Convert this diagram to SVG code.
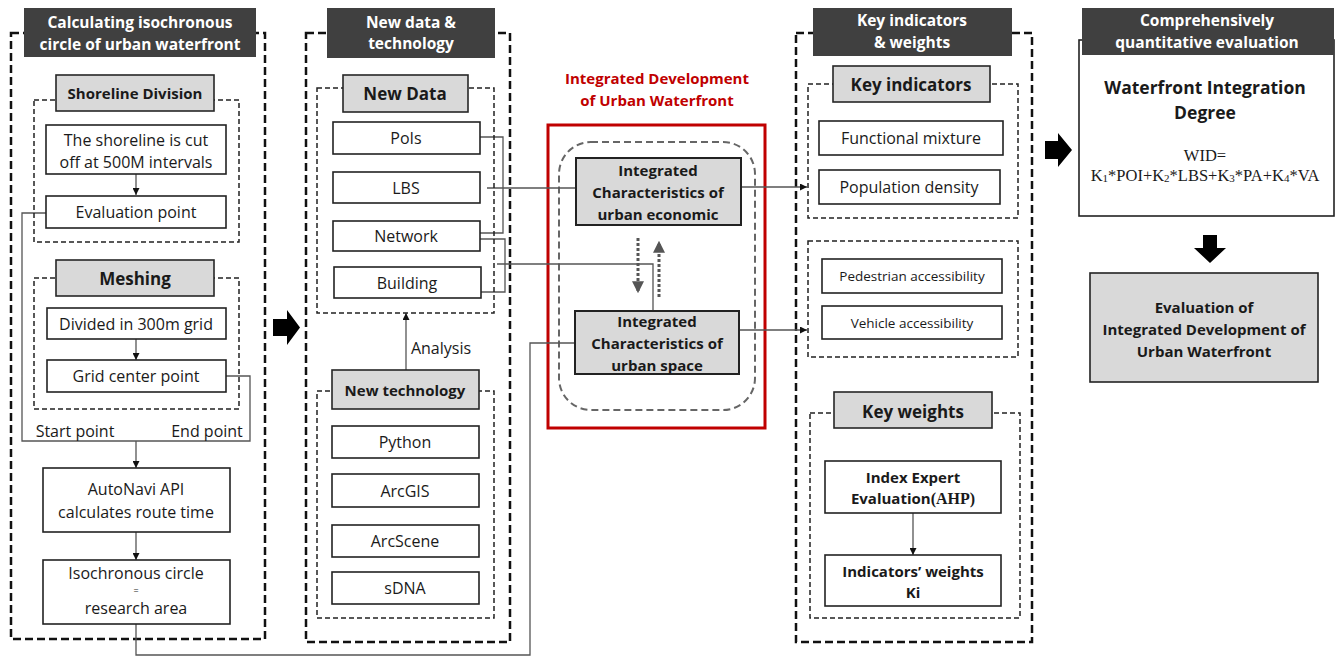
<svg xmlns="http://www.w3.org/2000/svg" width="1335" height="656" viewBox="0 0 1335 656">
<style>
text{font-family:"Open Sans","Noto Sans","Liberation Sans",sans-serif;fill:#1a1a1a;text-anchor:middle;dominant-baseline:central}
.hd{fill:#404040}
.hdt{fill:#fff;font-weight:bold;font-size:15.5px}
.outer{fill:none;stroke:#111;stroke-width:2.5;stroke-dasharray:8 4}
.inner{fill:none;stroke:#222;stroke-width:1.5;stroke-dasharray:5 3}
.lab{fill:#d9d9d9;stroke:#262626;stroke-width:1.6}
.labt{font-weight:bold;font-size:16px}
.box{fill:#fff;stroke:#222;stroke-width:1.6}
.t{font-size:16px}
.gbox{fill:#d9d9d9;stroke:#222;stroke-width:2}
.bt{font-weight:bold;font-size:15px}
.con{fill:none;stroke:#555;stroke-width:1.3}
.arr{fill:none;stroke:#555;stroke-width:1.3;marker-end:url(#ah)}
.dot{fill:none;stroke:#555;stroke-width:3;stroke-dasharray:3 2;marker-end:url(#dh)}
.blk{fill:#000}
.red{font-weight:bold;font-size:15px;fill:#c00000}
.serif{font-family:"Liberation Serif","Times New Roman",serif;font-size:16.5px}
</style>
<defs>
<marker id="ah" viewBox="0 0 10 10" refX="10" refY="5" markerWidth="7" markerHeight="7" markerUnits="userSpaceOnUse" orient="auto"><path d="M0,0 L10,5 L0,10 z" fill="#111"/></marker>
<marker id="dh" viewBox="0 0 10 10" refX="9" refY="5" markerWidth="4" markerHeight="4" orient="auto"><path d="M0,0 L10,5 L0,10 z" fill="#555"/></marker>
</defs>

<!-- containers -->
<g id="col-left">
<rect class="outer" x="11" y="33" width="254" height="606"/>
<rect class="hd" x="24" y="8" width="232" height="49"/>
<text class="hdt" x="140" y="22">Calculating isochronous</text>
<text class="hdt" x="140" y="44">circle of urban waterfront</text>
</g>
<g id="col-middle">
<rect class="outer" x="306" y="33" width="204" height="609"/>
<rect class="hd" x="327" y="8" width="168" height="50"/>
<text class="hdt" x="411" y="22">New data &amp;</text>
<text class="hdt" x="411" y="43">technology</text>
</g>
<g id="col-right">
<rect class="outer" x="796" y="33" width="236" height="609"/>
<rect class="hd" x="813" y="8" width="199" height="48"/>
<text class="hdt" x="912" y="20">Key indicators</text>
<text class="hdt" x="912" y="42">&amp; weights</text>
</g>
<g id="center-frame">
<text class="red" x="657" y="78">Integrated Development</text>
<text class="red" x="657" y="100">of Urban Waterfront</text>
<rect x="548" y="125" width="217" height="303" fill="none" stroke="#c00000" stroke-width="3"/>
<rect x="559" y="142" width="196" height="268" rx="32" fill="none" stroke="#666" stroke-width="2" stroke-dasharray="7 4"/>
</g>

<!-- connectors -->
<g id="connectors">
<path class="arr" d="M136,174 V195"/>
<path class="arr" d="M136,339 V360"/>
<path class="con" d="M46,213 H22 V441 H250 V376 H226"/>
<path class="arr" d="M136,441 V468"/>
<path class="arr" d="M136,532 V560"/>
<path class="con" d="M136,624 V655 H530 V343 H574"/>
<path class="con" d="M480,137 H503 V233 H480"/>
<path class="con" d="M480,239 H505 V292 H481"/>
<path class="con" d="M487,188 H575"/>
<path class="con" d="M497,264 H653 V311"/>
<path class="arr" d="M741,187 H807"/>
<path class="arr" d="M739,330 H807"/>
<path class="arr" d="M406,370 V313"/>
<path class="arr" d="M913,513 V555"/>
<path class="dot" d="M638,238 V292"/>
<path class="dot" d="M659,297 V242"/>
</g>

<!-- left column nodes -->
<g id="shoreline-division">
<rect class="inner" x="34" y="100" width="205" height="142"/>
<rect class="lab" x="56" y="75" width="158" height="36"/>
<text class="labt" x="135" y="93" style="font-size:15px">Shoreline Division</text>
</g>
<g id="shoreline-cut">
<rect class="box" x="46" y="125" width="180" height="49"/>
<text class="t" x="136" y="140">The shoreline is cut</text>
<text class="t" x="136" y="162">off at 500M intervals</text>
</g>
<g id="evaluation-point">
<rect class="box" x="46" y="196" width="180" height="32"/>
<text class="t" x="136" y="212">Evaluation point</text>
</g>
<g id="meshing">
<rect class="inner" x="34" y="278" width="205" height="131"/>
<rect class="lab" x="56" y="260" width="158" height="36"/>
<text class="labt" x="135" y="278" style="font-size:17px">Meshing</text>
</g>
<g id="divided-grid">
<rect class="box" x="47" y="308" width="179" height="31"/>
<text class="t" x="136" y="324">Divided in 300m grid</text>
</g>
<g id="grid-center">
<rect class="box" x="47" y="360" width="179" height="32"/>
<text class="t" x="136" y="376">Grid center point</text>
</g>
<g id="point-labels">
<text class="t" x="75" y="431">Start point</text>
<text class="t" x="207" y="431">End point</text>
</g>
<g id="autonavi">
<rect class="box" x="43" y="468" width="187" height="64"/>
<text class="t" x="136" y="489">AutoNavi API</text>
<text class="t" x="136" y="512">calculates route time</text>
</g>
<g id="isochronous">
<rect class="box" x="43" y="560" width="187" height="64"/>
<text class="t" x="136" y="573">Isochronous circle</text>
<text class="t" x="136" y="590" style="font-size:9px">=</text>
<text class="t" x="136" y="608">research area</text>
</g>

<!-- middle column nodes -->
<g id="new-data">
<rect class="inner" x="317" y="88" width="177" height="225"/>
<rect class="lab" x="343" y="75" width="125" height="37"/>
<text class="labt" x="405" y="93" style="font-size:17px">New Data</text>
</g>
<g id="pois">
<rect class="box" x="333" y="122" width="147" height="32"/>
<text class="t" x="406" y="138">PoIs</text>
</g>
<g id="lbs">
<rect class="box" x="333" y="172" width="147" height="31"/>
<text class="t" x="406" y="188">LBS</text>
</g>
<g id="network">
<rect class="box" x="333" y="221" width="147" height="30"/>
<text class="t" x="406" y="236">Network</text>
</g>
<g id="building">
<rect class="box" x="334" y="267" width="147" height="31"/>
<text class="t" x="407" y="283">Building</text>
</g>
<g id="analysis-label">
<text class="t" x="441" y="348">Analysis</text>
</g>
<g id="new-technology">
<rect class="inner" x="317" y="391" width="177" height="227"/>
<rect class="lab" x="332" y="370" width="147" height="39"/>
<text class="labt" x="405" y="390" style="font-size:15px">New technology</text>
</g>
<g id="python">
<rect class="box" x="332" y="426" width="147" height="32"/>
<text class="t" x="405" y="442">Python</text>
</g>
<g id="arcgis">
<rect class="box" x="332" y="474" width="147" height="33"/>
<text class="t" x="405" y="491">ArcGIS</text>
</g>
<g id="arcscene">
<rect class="box" x="332" y="525" width="147" height="32"/>
<text class="t" x="405" y="541">ArcScene</text>
</g>
<g id="sdna">
<rect class="box" x="332" y="572" width="147" height="32"/>
<text class="t" x="405" y="588">sDNA</text>
</g>

<!-- center nodes -->
<g id="urban-economic">
<rect class="gbox" x="576" y="158" width="165" height="67"/>
<text class="bt" x="658" y="170">Integrated</text>
<text class="bt" x="658" y="192">Characteristics of</text>
<text class="bt" x="658" y="214">urban economic</text>
</g>
<g id="urban-space">
<rect class="gbox" x="575" y="311" width="164" height="63"/>
<text class="bt" x="657" y="321">Integrated</text>
<text class="bt" x="657" y="343">Characteristics of</text>
<text class="bt" x="657" y="365">urban space</text>
</g>

<!-- right column nodes -->
<g id="key-indicators">
<rect class="inner" x="808" y="84" width="210" height="134"/>
<rect class="lab" x="833" y="66" width="157" height="36"/>
<text class="labt" x="911" y="84" style="font-size:17px">Key indicators</text>
</g>
<g id="functional-mixture">
<rect class="box" x="819" y="121" width="184" height="34"/>
<text class="t" x="911" y="138">Functional mixture</text>
</g>
<g id="population-density">
<rect class="box" x="819" y="170" width="181" height="34"/>
<text class="t" x="909" y="187">Population density</text>
</g>
<g id="accessibility">
<rect class="inner" x="808" y="241" width="210" height="116"/>
</g>
<g id="pedestrian">
<rect class="box" x="822" y="259" width="180" height="34"/>
<text class="t" x="912" y="276" style="font-size:13.5px">Pedestrian accessibility</text>
</g>
<g id="vehicle">
<rect class="box" x="822" y="306" width="180" height="33"/>
<text class="t" x="912" y="323" style="font-size:13.5px">Vehicle accessibility</text>
</g>
<g id="key-weights">
<rect class="inner" x="810" y="413" width="210" height="205"/>
<rect class="lab" x="834" y="392" width="158" height="36"/>
<text class="labt" x="913" y="411" style="font-size:17px">Key weights</text>
</g>
<g id="index-expert">
<rect class="box" x="825" y="461" width="176" height="52"/>
<text class="bt" x="913" y="477">Index Expert</text>
<text class="bt" x="913" y="498">Evaluation<tspan style="font-family:'Liberation Serif',serif;font-size:16px">(AHP)</tspan></text>
</g>
<g id="indicators-weights">
<rect class="box" x="825" y="555" width="176" height="51"/>
<text class="bt" x="913" y="571">Indicators’ weights</text>
<text class="bt" x="913" y="592">Ki</text>
</g>

<!-- far right -->
<g id="block-arrows">
<path class="blk" d="M273,319 H287 V310 L300,327.5 L287,345 V336 H273 z"/>
<path class="blk" d="M1045,141 H1058 V133 L1072,150 L1058,167 V159 H1045 z"/>
<path class="blk" d="M1203,235 H1217 V248 H1226 L1210,263 L1194,248 H1203 z"/>
</g>
<g id="wid">
<rect x="1079" y="40" width="255" height="176" fill="#fff" stroke="#222" stroke-width="1.6"/>
<rect class="hd" x="1082" y="8" width="252" height="47"/>
<text class="hdt" x="1207" y="20">Comprehensively</text>
<text class="hdt" x="1207" y="42">quantitative evaluation</text>
<text class="bt" x="1205" y="87" style="font-size:17.5px">Waterfront Integration</text>
<text class="bt" x="1205" y="112" style="font-size:17.5px">Degree</text>
<text class="serif" x="1205" y="155">WID=</text>
<text class="serif" x="1205" y="175">K<tspan font-size="11" dy="3">1</tspan><tspan dy="-3">*POI+K</tspan><tspan font-size="11" dy="3">2</tspan><tspan dy="-3">*LBS+K</tspan><tspan font-size="11" dy="3">3</tspan><tspan dy="-3">*PA+K</tspan><tspan font-size="11" dy="3">4</tspan><tspan dy="-3">*VA</tspan></text>
</g>
<g id="evaluation">
<rect class="gbox" x="1090" y="273" width="228" height="109" style="stroke-width:1.6"/>
<text class="bt" x="1204" y="307">Evaluation of</text>
<text class="bt" x="1204" y="329">Integrated Development of</text>
<text class="bt" x="1204" y="351">Urban Waterfront</text>
</g>
</svg>
